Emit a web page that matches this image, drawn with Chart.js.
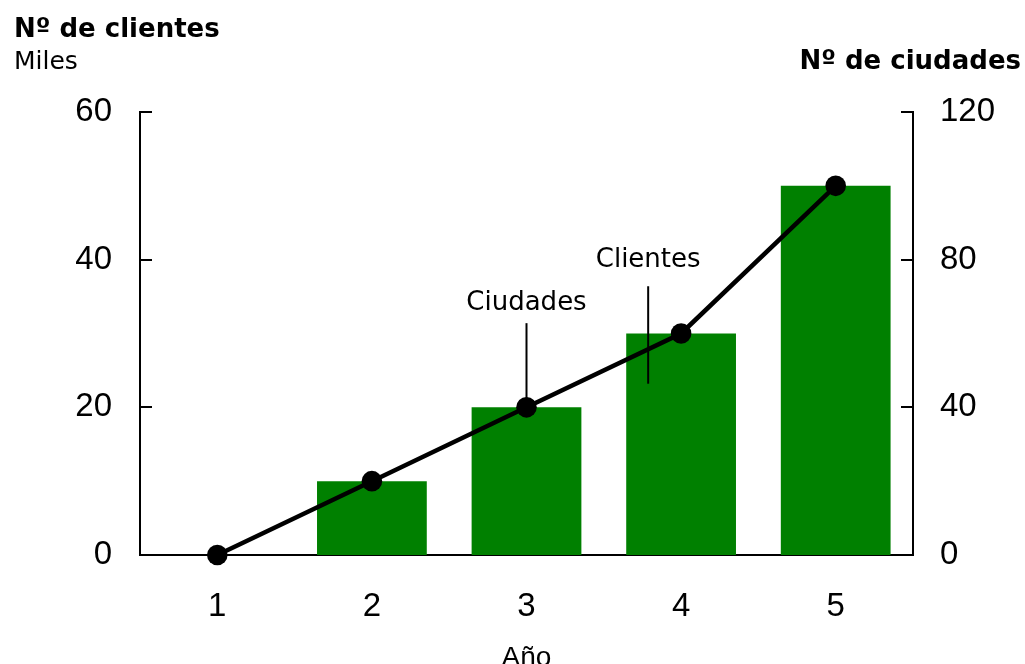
<!DOCTYPE html>
<html>
<head>
<meta charset="utf-8">
<script src="https://cdn.jsdelivr.net/npm/chart.js@4/dist/chart.umd.min.js"></script>
<style>
  html, body { margin: 0; padding: 0; background: #fff; }
  #wrap { width: 1025px; height: 664px; position: relative; }
</style>
</head>
<body>
<div id="wrap"><canvas id="c"></canvas></div>
<script>
const categories = ['1', '2', '3', '4', '5'];
const clientes = [0, 10, 20, 30, 50];      // miles (eje izquierdo)
const ciudades = [0, 20, 40, 60, 100];     // nº de ciudades (eje derecho)
const leftTicks = [0, 20, 40, 60];
const rightTicks = [0, 40, 80, 120];

const titleLeft = 'Nº de clientes';
const subLeft = 'Miles';
const titleRight = 'Nº de ciudades';
const xTitle = 'Año';

const TEXT_FONT = '"DejaVu Sans", Verdana, sans-serif';
const TICK_FONT = '"Liberation Sans", Arial, sans-serif';

// annotation labels, positioned in data space
const annotations = [
  { text: 'Ciudades', axis: 'y2', x: 2, textY: 66.4, lineTop: 62.8, lineBottom: 40 },
  { text: 'Clientes', axis: 'y', x: 2.787, textY: 39.0, lineTop: 36.4, lineBottom: 23.2 }
];

const decor = {
  id: 'decor',
  afterDraw(chart) {
    const ctx = chart.ctx;
    const area = chart.chartArea;
    const sx = chart.scales.x;
    ctx.save();
    // inner tick marks
    ctx.strokeStyle = '#000';
    ctx.lineWidth = 2;
    chart.scales.y.ticks.forEach(t => {
      const py = Math.round(chart.scales.y.getPixelForValue(t.value));
      ctx.beginPath(); ctx.moveTo(area.left, py); ctx.lineTo(area.left + 12, py); ctx.stroke();
    });
    chart.scales.y2.ticks.forEach(t => {
      const py = Math.round(chart.scales.y2.getPixelForValue(t.value));
      ctx.beginPath(); ctx.moveTo(area.right, py); ctx.lineTo(area.right - 12, py); ctx.stroke();
    });
    // annotations
    ctx.fillStyle = '#000';
    ctx.font = '26px ' + TEXT_FONT;
    ctx.textAlign = 'center';
    ctx.textBaseline = 'alphabetic';
    annotations.forEach(a => {
      const sy = chart.scales[a.axis];
      const px = sx.getPixelForValue(a.x);
      ctx.fillText(a.text, px, sy.getPixelForValue(a.textY));
      ctx.beginPath();
      ctx.lineWidth = 2;
      ctx.moveTo(px, sy.getPixelForValue(a.lineTop));
      ctx.lineTo(px, sy.getPixelForValue(a.lineBottom));
      ctx.stroke();
    });
    // titles
    ctx.textAlign = 'left';
    ctx.font = 'bold 26px ' + TEXT_FONT;
    ctx.fillText(titleLeft, 14, 37);
    ctx.font = '25px ' + TEXT_FONT;
    ctx.fillText(subLeft, 14, 69);
    ctx.textAlign = 'right';
    ctx.font = 'bold 26px ' + TEXT_FONT;
    ctx.fillText(titleRight, 1021, 69);
    ctx.textAlign = 'center';
    ctx.font = '28px ' + TICK_FONT;
    ctx.fillText(xTitle, (area.left + area.right) / 2, 666);
    ctx.restore();
  }
};

new Chart(document.getElementById('c'), {
  data: {
    labels: categories,
    datasets: [
      {
        type: 'line',
        label: 'Ciudades',
        data: ciudades,
        yAxisID: 'y2',
        borderColor: '#000',
        backgroundColor: '#000',
        borderWidth: 4.5,
        pointRadius: 10.3,
        pointBackgroundColor: '#000',
        pointBorderColor: '#000',
        pointBorderWidth: 0,
        tension: 0,
        clip: false,
        order: 0
      },
      {
        type: 'bar',
        label: 'Clientes',
        data: clientes,
        yAxisID: 'y',
        backgroundColor: '#008000',
        borderWidth: 0,
        categoryPercentage: 1,
        barPercentage: 0.71,
        order: 1
      }
    ]
  },
  options: {
    responsive: true,
    maintainAspectRatio: false,
    animation: false,
    layout: { padding: { left: 0, right: 0, top: 112, bottom: 0 } },
    plugins: { legend: { display: false }, tooltip: { enabled: false } },
    scales: {
      x: {
        offset: true,
        grid: { display: false, drawTicks: false },
        border: { display: true, color: '#000', width: 2 },
        ticks: { color: '#000', font: { family: TICK_FONT, size: 33 }, padding: 32 },
        afterFit(s) { s.height = 109; }
      },
      y: {
        position: 'left',
        min: 0, max: 60,
        afterBuildTicks(s) { s.ticks = leftTicks.map(v => ({ value: v })); },
        grid: { display: false, drawTicks: false },
        border: { display: true, color: '#000', width: 2 },
        ticks: { color: '#000', font: { family: TICK_FONT, size: 33 }, padding: 28 },
        afterFit(s) { s.width = 140; }
      },
      y2: {
        position: 'right',
        min: 0, max: 120,
        afterBuildTicks(s) { s.ticks = rightTicks.map(v => ({ value: v })); },
        grid: { display: false, drawTicks: false },
        border: { display: true, color: '#000', width: 2 },
        ticks: { color: '#000', font: { family: TICK_FONT, size: 33 }, padding: 27 },
        afterFit(s) { s.width = 112; }
      }
    }
  },
  plugins: [decor]
});
</script>
</body>
</html>
